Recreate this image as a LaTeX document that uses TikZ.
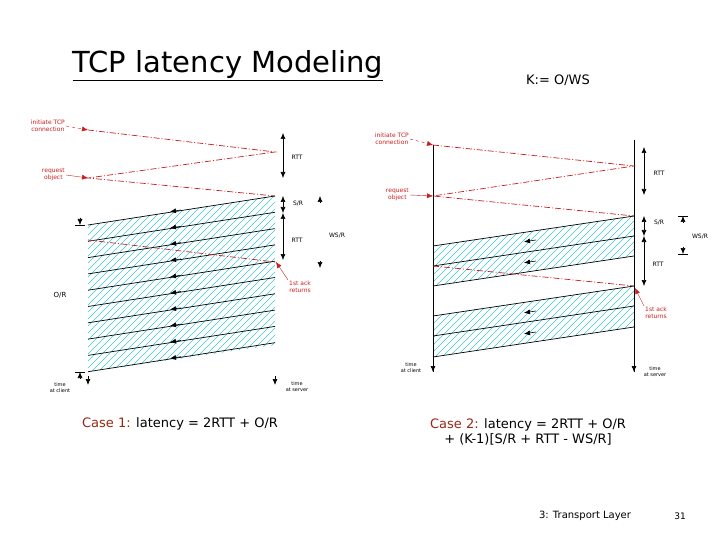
\documentclass[tikz,border=0pt]{standalone}
\usepackage{fontspec}
\setmainfont{DejaVu Sans}
\usetikzlibrary{arrows.meta}
\definecolor{tcpred}{RGB}{200,30,30}
\definecolor{casered}{RGB}{150,40,20}
\definecolor{hatch}{RGB}{60,200,210}
\begin{document}
\begin{tikzpicture}[x=1pt,y=-1pt,
  tip/.tip={Latex[length=6pt,width=5pt]},
  redmsg/.style={tcpred,dash pattern=on 6pt off 2pt on 1pt off 2pt,line width=0.7pt},
  datamsg/.style={black,line width=0.7pt},
  lbl/.style={font=\fontsize{6}{7}\selectfont,align=center,inner sep=1pt},
  rlbl/.style={lbl,text=tcpred},
  bracket/.style={tip-tip,line width=0.6pt},
  hatchline/.style={hatch,line width=0.5pt},
  tl/.style={-tip,line width=0.7pt}]
\useasboundingbox (0,0) rectangle (720,540);
% titles
\node[font=\fontsize{29}{33}\selectfont,inner sep=0pt] (title) at (228,66) {\underline{TCP latency Modeling}};
\node[font=\fontsize{13}{15}\selectfont] (k) at (558,80) {K:= O/WS};
\node[font=\fontsize{13}{15}\selectfont] (c1) at (180,424) {\textcolor{casered}{Case 1:} latency = 2RTT + O/R};
\node[font=\fontsize{13}{15}\selectfont,align=center] (c2) at (528,432) {\textcolor{casered}{Case 2:} latency = 2RTT + O/R\\+ (K-1)[S/R + RTT - WS/R]};
\node[font=\fontsize{10}{12}\selectfont] (foot) at (585,516) {3: Transport Layer};
\node[font=\fontsize{9}{11}\selectfont] (pg) at (680,516) {31};
% ===== left diagram =====
\coordinate (La) at (88,130); \coordinate (Sa) at (275,152);
\coordinate (Lb) at (88,178); \coordinate (Sb) at (275,196);
\begin{scope}
\clip (88,225) -- (275,196) -- (275,345) -- (88,372) -- cycle;
\foreach \k in {-18,...,36}{ \draw[hatchline] ({\k*7},400) -- ++(250,-250); }
\end{scope}
\draw[redmsg] (La) -- (Sa) -- (Lb) -- (Sb);
\foreach \i in {0,...,9}{
  \draw[datamsg] (88,{225+\i*16.3}) -- (275,{196+\i*16.3});
  \draw[-tip,line width=0.6pt] (181,{210+\i*16.3}) -- (170,{211.7+\i*16.3});
}
\draw[redmsg] (88,240) -- (275,262);
\draw[line width=0.6pt,-tip] (80,218) -- (80,225);
\draw[line width=0.6pt] (75,225) -- (85,225);
\draw[line width=0.6pt,-tip] (80,379) -- (80,372);
\draw[line width=0.6pt] (75,372) -- (85,372);
\node[lbl,font=\fontsize{7}{8}\selectfont] (OR) at (60,295) {O/R};
\draw[bracket] (283,133) -- (283,178);
\draw[bracket] (283,196) -- (283,213);
\draw[bracket] (283,213) -- (283,260);
\node[lbl] at (297,157) {RTT};
\node[lbl] at (298,204) {S/R};
\node[lbl] at (297,240) {RTT};
\draw[line width=0.6pt,-tip] (320,203) -- (320,196);
\draw[line width=0.6pt,-tip] (320,261) -- (320,268);
\node[lbl] at (337,236) {WS/R};
\node[rlbl,anchor=east] (li) at (66,126) {initiate TCP\\connection};
\node[rlbl,anchor=east] (lr) at (66,175) {request\\object};
\draw[tcpred,-tip,dashed] (li.east) -- (La);
\draw[tcpred,-tip] (lr.east) -- (Lb);
\node[rlbl,anchor=west] (la) at (288,287) {1st ack\\returns};
\draw[tcpred,-tip] (la.north west) -- (276,262);
\draw[tl] (88,376) -- (88,385);
\draw[tl] (275,376) -- (275,385);
\node[lbl,font=\fontsize{5}{6}\selectfont] at (60,388) {time\\at client};
\node[lbl,font=\fontsize{5}{6}\selectfont] at (297,387) {time\\at server};
% ===== right diagram =====
\coordinate (Ra) at (433,145); \coordinate (Rsa) at (634,166);
\coordinate (Rb) at (433,196); \coordinate (Rsb) at (634,216);
\begin{scope}
\clip (433,246) -- (634,216) -- (634,256) -- (433,286) -- cycle
      (433,316) -- (634,286) -- (634,327) -- (433,357) -- cycle;
\foreach \k in {32,...,88}{ \draw[hatchline] ({\k*7},400) -- ++(250,-250); }
\end{scope}
\draw[line width=0.7pt] (433,145) -- (433,372);
\draw[line width=0.7pt] (634,140) -- (634,372);
\draw[tl] (433,364) -- (433,372);
\draw[tl] (634,364) -- (634,372);
\draw[redmsg] (Ra) -- (Rsa) -- (Rb) -- (Rsb);
\foreach \y in {246,266,286,316,336,357}{
  \draw[datamsg] (433,\y) -- (634,{\y-30});
}
\foreach \y in {240,261,311,332}{
  \draw[-tip,line width=0.6pt] (536,\y) -- (524,{\y+1.8});
}
\draw[redmsg] (433,266) -- (634,286);
\draw[bracket] (644,147) -- (644,195);
\draw[bracket] (644,216) -- (644,236);
\draw[bracket] (644,236) -- (644,286);
\node[lbl] at (659,173) {RTT};
\node[lbl] at (659,223) {S/R};
\node[lbl] at (658,264) {RTT};
\draw[line width=0.6pt,-tip] (683,223) -- (683,216);
\draw[line width=0.6pt] (678,216) -- (688,216);
\draw[line width=0.6pt,-tip] (683,247) -- (683,254);
\draw[line width=0.6pt] (678,254) -- (688,254);
\node[lbl] at (700,237) {WS/R};
\node[rlbl,anchor=east] (ri) at (410,139) {initiate TCP\\connection};
\node[rlbl,anchor=east] (rr) at (410,195) {request\\object};
\draw[tcpred,-tip,dashed] (ri.east) -- (Ra);
\draw[tcpred,-tip] (rr.east) -- (Rb);
\node[rlbl,anchor=west] (ra) at (644,313) {1st ack\\returns};
\draw[tcpred,-tip] (ra.north west) -- (635,288);
\node[lbl,font=\fontsize{5}{6}\selectfont] at (411,368) {time\\at client};
\node[lbl,font=\fontsize{5}{6}\selectfont] at (655,372) {time\\at server};
\end{tikzpicture}
\end{document}
